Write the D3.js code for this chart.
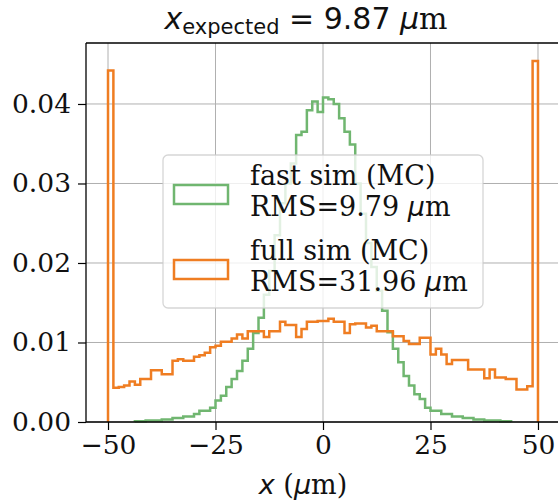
<!DOCTYPE html>
<html>
<head>
<meta charset="utf-8">
<script src="https://cdn.jsdelivr.net/npm/d3@7"></script>
<style>
  html, body { margin: 0; padding: 0; background: #fff; }
  svg { display: block; }
</style>
</head>
<body>
<svg id="chart" width="558" height="501"></svg>
<script>
// ---- data ----
const binEdges = [
  -50, -48.75, -47.5, -46.25, -45, -43.75, -42.5, -41.25, -40, -38.75,
  -37.5, -36.25, -35, -33.75, -32.5, -31.25, -30, -28.75, -27.5, -26.25,
  -25, -23.75, -22.5, -21.25, -20, -18.75, -17.5, -16.25, -15, -13.75,
  -12.5, -11.25, -10, -8.75, -7.5, -6.25, -5, -3.75, -2.5, -1.25,
  0, 1.25, 2.5, 3.75, 5, 6.25, 7.5, 8.75, 10, 11.25,
  12.5, 13.75, 15, 16.25, 17.5, 18.75, 20, 21.25, 22.5, 23.75,
  25, 26.25, 27.5, 28.75, 30, 31.25, 32.5, 33.75, 35, 36.25,
  37.5, 38.75, 40, 41.25, 42.5, 43.75, 45, 46.25, 47.5, 48.75, 50
];
const fastSim = [
  0, 0, 0, 0, 0, 0.0001, 0.0001, 0.0002, 0.0002, 0.0002,
  0.0003, 0.0003, 0.0005, 0.0005, 0.0007, 0.0007, 0.0010, 0.0014, 0.0014, 0.0018,
  0.0027, 0.0033, 0.0044, 0.0054, 0.0064, 0.0077, 0.0092, 0.0112, 0.0131, 0.0160,
  0.0190, 0.0235, 0.0275, 0.0300, 0.0325, 0.0361, 0.0365, 0.0392, 0.0403, 0.0390,
  0.0408, 0.0406, 0.0400, 0.0382, 0.0365, 0.0349, 0.0300, 0.0262, 0.0225, 0.0195,
  0.0165, 0.0140, 0.0113, 0.0092, 0.0075, 0.0058, 0.0046, 0.0035, 0.0029, 0.0018,
  0.0014, 0.0014, 0.0010, 0.0010, 0.0007, 0.0007, 0.0005, 0.0005, 0.0003, 0.0003,
  0.0002, 0.0002, 0.0002, 0.0001, 0.0001, 0, 0, 0, 0, 0
];
const fullSim = [
  0.0442, 0.0043, 0.0044, 0.0046, 0.0051, 0.0047, 0.0054, 0.0054, 0.0065, 0.0065,
  0.0060, 0.0060, 0.0077, 0.0079, 0.0077, 0.0077, 0.0082, 0.0084, 0.0087, 0.0094,
  0.0096, 0.0101, 0.0101, 0.0105, 0.0110, 0.0105, 0.0114, 0.0114, 0.0114, 0.0107,
  0.0114, 0.0114, 0.0126, 0.0122, 0.0122, 0.0107, 0.0117, 0.0126, 0.0126, 0.0127,
  0.0127, 0.0130, 0.0126, 0.0126, 0.0112, 0.0123, 0.0124, 0.0124, 0.0119, 0.0121,
  0.0114, 0.0114, 0.0114, 0.0108, 0.0108, 0.0102, 0.0098, 0.0098, 0.0106, 0.0106,
  0.0085, 0.0092, 0.0085, 0.0073, 0.0078, 0.0078, 0.0078, 0.0066, 0.0066, 0.0066,
  0.0055, 0.0066, 0.0056, 0.0056, 0.0054, 0.0054, 0.0041, 0.0041, 0.0045, 0.0454
];
const xTicks = [-50, -25, 0, 25, 50];
const xTickLabels = ["\u221250", "\u221225", "0", "25", "50"];
const yTicks = [0, 0.01, 0.02, 0.03, 0.04];
const yTickLabels = ["0.00", "0.01", "0.02", "0.03", "0.04"];
const seriesNames = ["fast sim (MC)", "full sim (MC)"];
const seriesRms = ["RMS=9.79", "RMS=31.96"];
const seriesColors = ["#70b670", "#ef7d22"];

// ---- layout ----
const svg = d3.select("#chart");
const pL = 86, pR = 560, pT = 43, pB = 422;
const x = d3.scaleLinear().domain([-55.12, 55.12]).range([pL, pR]);
const y = d3.scaleLinear().domain([0, 0.04767]).range([pB, pT]);
const serif = "'DejaVu Serif', serif";
const sans = "'DejaVu Sans', sans-serif";

// grid
const grid = svg.append("g");
grid.selectAll("line.gx").data(xTicks).join("line")
  .attr("x1", d => x(d)).attr("x2", d => x(d))
  .attr("y1", pT).attr("y2", pB)
  .attr("stroke", "#b0b0b0").attr("stroke-width", 1);
grid.selectAll("line.gy").data(yTicks).join("line")
  .attr("x1", pL).attr("x2", pR)
  .attr("y1", d => y(d)).attr("y2", d => y(d))
  .attr("stroke", "#b0b0b0").attr("stroke-width", 1);

// step histograms
function stepPath(vals) {
  let first = vals.findIndex(v => v > 0);
  let last = vals.length - 1;
  while (last > 0 && vals[last] === 0) last--;
  const pts = [[binEdges[first], 0]];
  for (let i = first; i <= last; i++) {
    pts.push([binEdges[i], vals[i]]);
    pts.push([binEdges[i + 1], vals[i]]);
  }
  pts.push([binEdges[last + 1], 0]);
  return d3.line().x(d => x(d[0])).y(d => y(d[1]))(pts);
}
const plot = svg.append("g");
[fastSim, fullSim].forEach((vals, k) => {
  plot.append("path")
    .attr("d", stepPath(vals))
    .attr("fill", "none")
    .attr("stroke", seriesColors[k])
    .attr("stroke-width", 2.5)
    .attr("stroke-linejoin", "miter");
});

// axes
const xAxis = svg.append("g").attr("transform", `translate(0,${pB})`)
  .call(d3.axisBottom(x).tickValues(xTicks).tickFormat((d, i) => xTickLabels[i]).tickSize(8).tickPadding(5));
const yAxis = svg.append("g").attr("transform", `translate(${pL},0)`)
  .call(d3.axisLeft(y).tickValues(yTicks).tickFormat((d, i) => yTickLabels[i]).tickSize(8).tickPadding(7));
[xAxis, yAxis].forEach(g => {
  g.select(".domain").remove();
  g.selectAll(".tick line").attr("stroke", "#000").attr("stroke-width", 1.2);
  g.selectAll(".tick text").attr("font-family", serif).attr("font-size", 26.5).attr("fill", "#111");
});
// spines (right spine lies beyond the visible edge)
svg.append("line").attr("x1", pL).attr("x2", pL).attr("y1", pT).attr("y2", pB)
  .attr("stroke", "#000").attr("stroke-width", 1.3);
svg.append("line").attr("x1", pL).attr("x2", pR).attr("y1", pB).attr("y2", pB)
  .attr("stroke", "#000").attr("stroke-width", 1.3);
svg.append("line").attr("x1", pL).attr("x2", pR).attr("y1", pT).attr("y2", pT)
  .attr("stroke", "#000").attr("stroke-width", 1.3);

// legend
const lg = svg.append("g");
lg.append("rect").attr("x", 163).attr("y", 155).attr("width", 320).attr("height", 153)
  .attr("rx", 5).attr("fill", "#fff").attr("fill-opacity", 0.8)
  .attr("stroke", "#cccccc").attr("stroke-opacity", 0.8).attr("stroke-width", 1.3);
const legendRows = [185, 260];
legendRows.forEach((b, k) => {
  lg.append("rect").attr("x", 174).attr("y", b).attr("width", 54).attr("height", 19)
    .attr("fill", "none").attr("stroke", seriesColors[k]).attr("stroke-width", 2.5);
  lg.append("text").attr("x", 250).attr("y", b).attr("font-family", serif)
    .attr("font-size", 27).attr("fill", "#111").text(seriesNames[k]);
  const t2 = lg.append("text").attr("x", 250).attr("y", b + 31).attr("font-family", serif)
    .attr("font-size", 27).attr("fill", "#111");
  t2.append("tspan").text(seriesRms[k] + " ");
  t2.append("tspan").attr("font-family", sans).attr("font-style", "italic").text("\u03bc");
  t2.append("tspan").text("m");
});

// title
const title = svg.append("text").attr("x", 306).attr("y", 29).attr("text-anchor", "middle")
  .attr("font-family", sans).attr("font-size", 30).attr("fill", "#111");
title.append("tspan").attr("font-style", "italic").text("x");
title.append("tspan").attr("font-size", 21).attr("dy", 5).text("expected");
title.append("tspan").attr("dy", -5).text(" = 9.87 ");
title.append("tspan").attr("font-style", "italic").text("\u03bc");
title.append("tspan").attr("font-family", serif).text("m");

// x label
const xl = svg.append("text").attr("x", 303).attr("y", 494).attr("text-anchor", "middle")
  .attr("font-family", serif).attr("font-size", 27).attr("fill", "#111");
xl.append("tspan").attr("font-family", sans).attr("font-style", "italic").text("x");
xl.append("tspan").text(" (");
xl.append("tspan").attr("font-family", sans).attr("font-style", "italic").text("\u03bc");
xl.append("tspan").text("m)");
</script>
</body>
</html>
